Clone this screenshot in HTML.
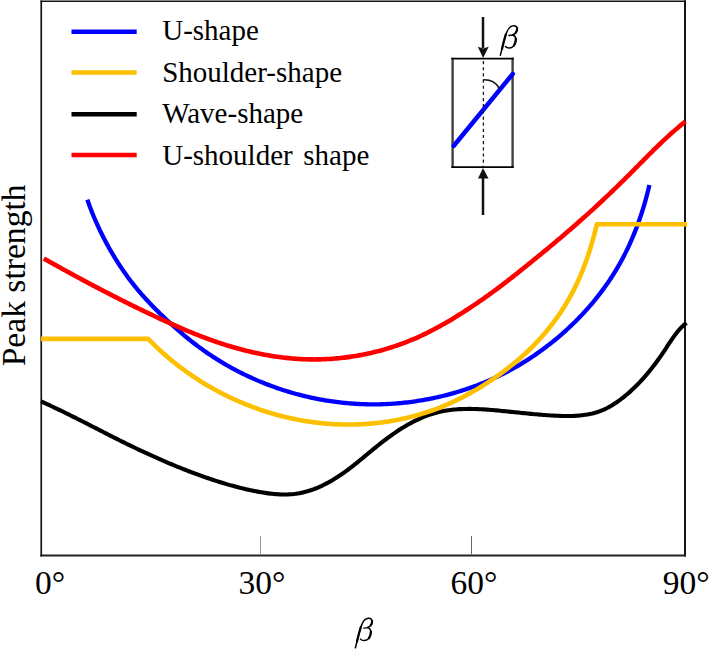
<!DOCTYPE html>
<html><head><meta charset="utf-8"><style>html,body{margin:0;padding:0;background:#fff;width:709px;height:650px;overflow:hidden}body{position:relative}</style></head>
<body>
<svg width="709" height="650" viewBox="0 0 709 650" style="position:absolute;left:0;top:0">
<rect x="0" y="0" width="709" height="650" fill="#fff"/>
<defs><g id="beta" fill="none" stroke="#000" stroke-linecap="round">
<path d="M355.4,647.8 C357.5,639 359.8,629.5 361.8,624.6 C363.3,620.8 365.7,618.4 368.6,618.3 C371,618.2 372.6,620 372.3,622.5 C372,624.8 370.3,626.6 367.6,627.4" stroke-width="1.5"/>
<path d="M357,641.5 C358.3,636 359.6,631 360.8,627" stroke-width="2.2"/>
<path d="M363.9,628.1 L368.6,627.6" stroke-width="1.4"/>
<path d="M368,627.6 C370.3,628.5 371.1,631 370.7,634 C370.1,637.5 367.6,640.4 364.5,640.6 C362.7,640.7 361.3,640.1 360.5,639.1" stroke-width="1.5"/>
<path d="M370.9,631.5 C370.8,634.5 370,636.8 368.9,638.2" stroke-width="2.2"/>
<path d="M372.2,620.6 C372.2,622.6 371.6,624 370.5,625.2" stroke-width="1.9"/>
</g></defs>
<g stroke="#151515" stroke-linecap="square">
<line x1="41.25" y1="1.3" x2="41.25" y2="555.6" stroke-width="1.7"/>
<line x1="41.25" y1="1.3" x2="685" y2="1.3" stroke-width="1.6"/>
<line x1="685" y1="1.3" x2="685" y2="555.6" stroke-width="2"/>
<line x1="41.25" y1="555.6" x2="685" y2="555.6" stroke-width="2" stroke="#222"/>
</g>
<g fill="none" stroke-linejoin="round">
<path d="M41.00,401.50 42.68,402.23 44.35,402.98 46.02,403.72 47.69,404.47 49.35,405.23 51.01,405.99 52.67,406.76 54.32,407.53 55.97,408.31 57.62,409.09 59.27,409.88 60.91,410.67 62.55,411.46 64.19,412.26 65.83,413.06 67.47,413.86 69.10,414.67 70.73,415.48 72.36,416.29 73.99,417.11 75.62,417.92 77.25,418.74 78.87,419.57 80.50,420.39 82.12,421.22 83.74,422.04 85.36,422.87 86.99,423.70 88.61,424.53 90.23,425.36 91.85,426.20 93.47,427.03 95.09,427.86 96.71,428.69 98.33,429.53 99.95,430.36 101.57,431.19 103.19,432.02 104.81,432.85 106.44,433.68 108.06,434.51 109.68,435.34 111.31,436.16 112.94,436.99 114.57,437.81 116.20,438.63 117.83,439.44 119.46,440.26 121.09,441.07 122.73,441.88 124.37,442.69 126.00,443.49 127.64,444.30 129.28,445.10 130.93,445.89 132.57,446.69 134.22,447.48 135.87,448.26 137.52,449.05 139.17,449.83 140.82,450.61 142.47,451.39 144.13,452.16 145.79,452.93 147.44,453.69 149.10,454.45 150.77,455.21 152.43,455.96 154.10,456.71 155.76,457.46 157.43,458.20 159.10,458.94 160.77,459.68 162.45,460.41 164.12,461.13 165.80,461.85 167.48,462.57 169.16,463.28 170.84,463.99 172.53,464.70 174.21,465.40 175.90,466.09 177.59,466.78 179.28,467.47 180.97,468.15 182.67,468.82 184.36,469.49 186.06,470.16 187.76,470.82 189.46,471.47 191.17,472.12 192.87,472.77 194.58,473.41 196.29,474.04 198.00,474.67 199.71,475.29 201.43,475.91 203.14,476.52 204.86,477.12 206.58,477.72 208.31,478.31 210.03,478.90 211.76,479.48 213.49,480.05 215.22,480.61 216.96,481.17 218.69,481.72 220.43,482.26 222.17,482.80 223.92,483.33 225.67,483.85 227.42,484.36 229.17,484.86 230.93,485.35 232.68,485.84 234.45,486.32 236.21,486.78 237.98,487.24 239.75,487.69 241.53,488.13 243.30,488.56 245.08,488.98 246.87,489.39 248.66,489.79 250.45,490.18 252.24,490.56 254.04,490.93 255.84,491.29 257.65,491.63 259.46,491.97 261.27,492.29 263.09,492.59 264.90,492.88 266.72,493.14 268.54,493.39 270.36,493.62 272.18,493.83 274.00,494.01 275.82,494.16 277.64,494.29 279.46,494.39 281.28,494.46 283.10,494.50 284.91,494.51 286.72,494.48 288.53,494.42 290.33,494.32 292.13,494.18 293.93,494.01 295.72,493.79 297.50,493.53 299.28,493.23 301.06,492.88 302.82,492.49 304.59,492.06 306.34,491.60 308.09,491.09 309.83,490.55 311.56,489.97 313.28,489.36 314.99,488.71 316.70,488.03 318.39,487.32 320.07,486.58 321.75,485.82 323.41,485.02 325.06,484.20 326.70,483.35 328.32,482.48 329.94,481.59 331.54,480.67 333.13,479.74 334.70,478.78 336.26,477.81 337.81,476.82 339.34,475.81 340.86,474.79 342.36,473.76 343.85,472.71 345.33,471.65 346.80,470.58 348.25,469.50 349.70,468.40 351.14,467.30 352.57,466.19 353.99,465.07 355.41,463.94 356.82,462.81 358.22,461.67 359.63,460.52 361.03,459.37 362.42,458.22 363.82,457.06 365.22,455.90 366.62,454.74 368.01,453.58 369.41,452.42 370.82,451.26 372.23,450.10 373.64,448.94 375.06,447.79 376.48,446.64 377.91,445.49 379.35,444.35 380.80,443.21 382.25,442.09 383.70,440.96 385.17,439.85 386.64,438.75 388.12,437.65 389.60,436.56 391.10,435.49 392.60,434.43 394.10,433.38 395.62,432.34 397.14,431.31 398.67,430.30 400.21,429.31 401.75,428.33 403.30,427.37 404.87,426.42 406.43,425.49 408.01,424.59 409.60,423.70 411.19,422.83 412.79,421.98 414.40,421.15 416.02,420.35 417.65,419.57 419.29,418.81 420.93,418.08 422.59,417.37 424.25,416.69 425.92,416.04 427.60,415.41 429.29,414.81 430.99,414.24 432.70,413.70 434.42,413.19 436.15,412.71 437.89,412.26 439.64,411.84 441.40,411.46 443.16,411.10 444.94,410.78 446.72,410.49 448.51,410.22 450.31,409.98 452.12,409.77 453.93,409.58 455.75,409.42 457.57,409.29 459.40,409.17 461.23,409.08 463.07,409.01 464.91,408.96 466.76,408.93 468.61,408.92 470.46,408.92 472.31,408.94 474.17,408.98 476.02,409.04 477.88,409.11 479.74,409.19 481.60,409.28 483.46,409.39 485.32,409.51 487.18,409.64 489.03,409.77 490.89,409.92 492.74,410.07 494.59,410.23 496.43,410.40 498.28,410.57 500.12,410.74 501.95,410.92 503.78,411.10 505.61,411.28 507.43,411.46 509.25,411.65 511.06,411.84 512.87,412.02 514.68,412.21 516.48,412.39 518.29,412.58 520.09,412.76 521.89,412.95 523.69,413.13 525.48,413.31 527.28,413.49 529.08,413.66 530.87,413.84 532.67,414.00 534.46,414.17 536.26,414.33 538.06,414.49 539.86,414.64 541.66,414.78 543.46,414.92 545.27,415.06 547.08,415.19 548.89,415.31 550.70,415.43 552.52,415.53 554.34,415.63 556.17,415.73 558.00,415.81 559.83,415.88 561.67,415.94 563.50,415.99 565.34,416.02 567.18,416.03 569.01,416.02 570.85,416.00 572.68,415.95 574.51,415.87 576.34,415.77 578.16,415.64 579.97,415.49 581.78,415.30 583.59,415.08 585.38,414.83 587.17,414.54 588.94,414.21 590.71,413.84 592.47,413.43 594.21,412.98 595.94,412.49 597.66,411.95 599.37,411.36 601.06,410.72 602.73,410.04 604.40,409.30 606.04,408.53 607.67,407.71 609.28,406.85 610.88,405.95 612.46,405.01 614.03,404.04 615.58,403.04 617.12,402.00 618.63,400.94 620.13,399.84 621.62,398.73 623.08,397.59 624.53,396.42 625.96,395.24 627.38,394.04 628.78,392.83 630.16,391.60 631.52,390.36 632.86,389.10 634.19,387.84 635.50,386.56 636.79,385.27 638.07,383.97 639.33,382.66 640.58,381.34 641.81,380.00 643.03,378.66 644.24,377.30 645.43,375.94 646.61,374.56 647.77,373.18 648.92,371.78 650.06,370.38 651.19,368.96 652.31,367.54 653.42,366.11 654.51,364.66 655.60,363.21 656.68,361.76 657.75,360.29 658.80,358.81 659.85,357.33 660.90,355.84 661.93,354.34 662.96,352.83 663.98,351.32 664.99,349.80 666.00,348.27 667.00,346.73 668.00,345.20 669.00,343.66 670.01,342.13 671.03,340.60 672.05,339.09 673.10,337.58 674.16,336.10 675.24,334.63 676.35,333.18 677.48,331.76 678.65,330.37 679.85,329.01 681.09,327.69 682.37,326.40 683.70,325.15 685.07,323.95 686.50,322.80" stroke="#000000" stroke-width="4.1"/>
<path d="M87.40,199.60 88.00,201.39 88.61,203.18 89.24,204.96 89.89,206.73 90.55,208.50 91.22,210.27 91.90,212.03 92.61,213.79 93.32,215.54 94.05,217.29 94.79,219.03 95.54,220.77 96.30,222.50 97.08,224.23 97.87,225.95 98.67,227.67 99.48,229.39 100.30,231.10 101.13,232.80 101.98,234.50 102.83,236.20 103.69,237.89 104.57,239.57 105.45,241.25 106.34,242.93 107.25,244.60 108.16,246.27 109.08,247.93 110.02,249.58 110.96,251.23 111.91,252.87 112.88,254.50 113.85,256.13 114.84,257.75 115.83,259.37 116.84,260.98 117.85,262.58 118.88,264.17 119.91,265.76 120.96,267.34 122.02,268.91 123.09,270.48 124.17,272.03 125.26,273.58 126.36,275.12 127.47,276.65 128.59,278.17 129.73,279.69 130.87,281.19 132.03,282.69 133.19,284.18 134.37,285.65 135.56,287.12 136.76,288.58 137.97,290.03 139.19,291.47 140.42,292.90 141.66,294.32 142.91,295.74 144.17,297.15 145.44,298.54 146.71,299.94 148.00,301.32 149.30,302.70 150.60,304.06 151.91,305.43 153.23,306.78 154.56,308.13 155.89,309.47 157.23,310.80 158.58,312.13 159.94,313.45 161.30,314.77 162.67,316.08 164.04,317.39 165.42,318.69 166.81,319.98 168.20,321.27 169.60,322.55 171.00,323.83 172.41,325.11 173.82,326.38 175.24,327.64 176.66,328.90 178.09,330.15 179.52,331.40 180.96,332.63 182.41,333.87 183.86,335.09 185.32,336.31 186.79,337.51 188.26,338.71 189.74,339.91 191.22,341.09 192.71,342.26 194.21,343.43 195.72,344.58 197.23,345.73 198.75,346.86 200.28,347.99 201.82,349.10 203.36,350.20 204.91,351.30 206.47,352.38 208.03,353.45 209.60,354.51 211.18,355.56 212.76,356.60 214.36,357.63 215.95,358.65 217.56,359.66 219.17,360.66 220.79,361.65 222.41,362.62 224.04,363.59 225.68,364.54 227.32,365.49 228.97,366.42 230.62,367.34 232.28,368.26 233.95,369.16 235.62,370.05 237.30,370.93 238.98,371.80 240.67,372.66 242.36,373.50 244.06,374.34 245.77,375.16 247.48,375.98 249.19,376.78 250.91,377.57 252.64,378.35 254.37,379.12 256.10,379.88 257.84,380.63 259.59,381.37 261.34,382.09 263.09,382.81 264.85,383.51 266.62,384.20 268.38,384.88 270.15,385.55 271.93,386.21 273.71,386.85 275.49,387.49 277.28,388.11 279.08,388.73 280.87,389.33 282.67,389.92 284.47,390.49 286.28,391.06 288.09,391.62 289.91,392.16 291.72,392.69 293.55,393.21 295.37,393.72 297.20,394.22 299.03,394.70 300.86,395.18 302.70,395.64 304.54,396.09 306.38,396.53 308.23,396.96 310.07,397.37 311.92,397.78 313.78,398.17 315.63,398.55 317.49,398.92 319.35,399.27 321.21,399.62 323.08,399.95 324.94,400.27 326.81,400.58 328.68,400.88 330.56,401.16 332.43,401.44 334.31,401.70 336.19,401.94 338.07,402.18 339.95,402.41 341.83,402.62 343.71,402.82 345.60,403.01 347.48,403.18 349.37,403.34 351.26,403.50 353.15,403.64 355.04,403.76 356.93,403.88 358.82,403.98 360.72,404.07 362.61,404.15 364.51,404.21 366.40,404.26 368.30,404.30 370.19,404.33 372.09,404.35 373.98,404.35 375.88,404.34 377.78,404.32 379.67,404.28 381.57,404.24 383.46,404.18 385.36,404.10 387.26,404.02 389.15,403.92 391.04,403.81 392.94,403.69 394.83,403.55 396.72,403.41 398.61,403.25 400.51,403.07 402.39,402.89 404.28,402.69 406.17,402.49 408.06,402.26 409.94,402.03 411.82,401.79 413.70,401.53 415.58,401.26 417.46,400.98 419.34,400.68 421.21,400.38 423.08,400.06 424.95,399.73 426.82,399.39 428.69,399.03 430.55,398.66 432.41,398.29 434.27,397.90 436.12,397.49 437.97,397.08 439.82,396.65 441.67,396.22 443.52,395.77 445.36,395.31 447.19,394.83 449.03,394.35 450.86,393.85 452.69,393.34 454.51,392.82 456.33,392.29 458.15,391.75 459.96,391.19 461.77,390.63 463.57,390.05 465.38,389.46 467.17,388.86 468.96,388.24 470.75,387.62 472.54,386.98 474.32,386.33 476.09,385.67 477.86,385.00 479.62,384.31 481.38,383.62 483.14,382.91 484.89,382.19 486.63,381.46 488.37,380.71 490.11,379.96 491.84,379.19 493.56,378.41 495.28,377.62 496.99,376.82 498.69,376.00 500.39,375.17 502.09,374.34 503.77,373.49 505.46,372.62 507.13,371.75 508.80,370.87 510.46,369.97 512.12,369.06 513.77,368.14 515.42,367.21 517.05,366.27 518.68,365.32 520.31,364.35 521.93,363.38 523.54,362.39 525.15,361.39 526.74,360.39 528.34,359.37 529.92,358.34 531.50,357.30 533.07,356.25 534.64,355.18 536.19,354.11 537.74,353.03 539.29,351.94 540.83,350.83 542.36,349.72 543.88,348.60 545.39,347.46 546.90,346.32 548.40,345.16 549.90,344.00 551.38,342.83 552.86,341.64 554.34,340.45 555.80,339.25 557.26,338.03 558.71,336.81 560.15,335.58 561.58,334.34 563.01,333.09 564.43,331.83 565.84,330.56 567.24,329.28 568.63,327.99 570.02,326.69 571.39,325.39 572.76,324.07 574.12,322.75 575.47,321.41 576.82,320.07 578.15,318.72 579.47,317.36 580.79,315.99 582.09,314.61 583.39,313.23 584.68,311.83 585.95,310.43 587.22,309.01 588.48,307.59 589.73,306.16 590.96,304.73 592.19,303.28 593.41,301.83 594.61,300.36 595.81,298.89 597.00,297.41 598.17,295.92 599.34,294.43 600.49,292.92 601.63,291.41 602.76,289.89 603.88,288.37 604.99,286.83 606.09,285.29 607.18,283.74 608.25,282.18 609.31,280.61 610.36,279.04 611.40,277.45 612.43,275.86 613.44,274.27 614.45,272.66 615.44,271.05 616.42,269.43 617.38,267.81 618.33,266.17 619.27,264.53 620.20,262.88 621.11,261.23 622.02,259.57 622.90,257.90 623.78,256.22 624.65,254.54 625.50,252.85 626.34,251.16 627.16,249.46 627.98,247.75 628.78,246.04 629.57,244.32 630.35,242.59 631.12,240.86 631.87,239.13 632.62,237.39 633.35,235.64 634.07,233.89 634.78,232.14 635.48,230.37 636.16,228.61 636.84,226.84 637.50,225.06 638.15,223.28 638.79,221.50 639.42,219.71 640.04,217.92 640.65,216.12 641.25,214.32 641.84,212.52 642.41,210.71 642.98,208.90 643.53,207.09 644.08,205.27 644.61,203.45 645.14,201.63 645.65,199.80 646.15,197.97 646.65,196.14 647.13,194.31 647.60,192.47 648.07,190.63 648.52,188.79 648.97,186.95 649.40,185.10" stroke="#0000ff" stroke-width="4.3"/>
<path d="M43.80,258.50 45.42,259.41 47.03,260.32 48.65,261.24 50.27,262.15 51.89,263.06 53.52,263.96 55.14,264.87 56.77,265.78 58.40,266.68 60.03,267.58 61.66,268.49 63.29,269.39 64.93,270.29 66.56,271.19 68.20,272.09 69.84,272.98 71.48,273.88 73.12,274.77 74.76,275.66 76.41,276.55 78.05,277.44 79.70,278.33 81.35,279.22 82.99,280.10 84.64,280.98 86.30,281.87 87.95,282.75 89.60,283.62 91.26,284.50 92.91,285.37 94.57,286.25 96.23,287.12 97.88,287.99 99.54,288.86 101.20,289.72 102.87,290.59 104.53,291.45 106.19,292.31 107.86,293.16 109.52,294.02 111.19,294.87 112.85,295.73 114.52,296.58 116.19,297.42 117.86,298.27 119.53,299.11 121.20,299.95 122.87,300.79 124.54,301.63 126.22,302.46 127.89,303.29 129.56,304.12 131.24,304.95 132.91,305.77 134.59,306.59 136.26,307.41 137.94,308.23 139.62,309.04 141.29,309.86 142.97,310.66 144.65,311.47 146.33,312.27 148.01,313.08 149.69,313.87 151.37,314.67 153.05,315.46 154.73,316.25 156.41,317.04 158.09,317.82 159.77,318.60 161.45,319.38 163.13,320.16 164.81,320.93 166.50,321.69 168.18,322.46 169.86,323.22 171.55,323.97 173.24,324.72 174.92,325.47 176.61,326.21 178.30,326.95 179.99,327.68 181.68,328.41 183.37,329.13 185.07,329.85 186.76,330.56 188.46,331.27 190.16,331.97 191.86,332.67 193.56,333.36 195.27,334.04 196.97,334.72 198.68,335.39 200.39,336.06 202.11,336.72 203.82,337.37 205.54,338.01 207.26,338.65 208.99,339.28 210.72,339.91 212.45,340.52 214.18,341.13 215.92,341.74 217.66,342.33 219.41,342.92 221.16,343.49 222.91,344.06 224.67,344.63 226.43,345.18 228.20,345.72 229.97,346.26 231.75,346.79 233.53,347.31 235.31,347.82 237.10,348.32 238.89,348.81 240.69,349.29 242.49,349.76 244.29,350.22 246.10,350.68 247.91,351.12 249.72,351.55 251.54,351.97 253.36,352.39 255.18,352.79 257.00,353.18 258.83,353.56 260.66,353.93 262.50,354.29 264.33,354.64 266.17,354.98 268.01,355.30 269.86,355.62 271.70,355.92 273.55,356.21 275.40,356.49 277.25,356.76 279.10,357.01 280.96,357.26 282.82,357.49 284.67,357.71 286.53,357.91 288.39,358.11 290.25,358.29 292.12,358.46 293.98,358.61 295.85,358.75 297.71,358.88 299.58,359.00 301.44,359.10 303.31,359.19 305.18,359.26 307.05,359.32 308.92,359.37 310.78,359.40 312.65,359.42 314.52,359.43 316.39,359.42 318.26,359.39 320.13,359.36 321.99,359.30 323.86,359.24 325.73,359.16 327.59,359.06 329.45,358.96 331.32,358.84 333.18,358.70 335.04,358.55 336.90,358.39 338.76,358.21 340.62,358.02 342.47,357.82 344.33,357.60 346.18,357.37 348.03,357.13 349.88,356.87 351.73,356.59 353.57,356.31 355.42,356.01 357.26,355.70 359.09,355.37 360.93,355.03 362.76,354.68 364.59,354.31 366.42,353.93 368.24,353.54 370.07,353.14 371.88,352.72 373.70,352.28 375.51,351.84 377.32,351.38 379.13,350.91 380.93,350.42 382.72,349.93 384.52,349.41 386.31,348.89 388.10,348.35 389.88,347.80 391.66,347.24 393.43,346.66 395.20,346.08 396.97,345.47 398.73,344.86 400.48,344.23 402.23,343.59 403.98,342.94 405.72,342.28 407.46,341.60 409.19,340.91 410.92,340.20 412.64,339.49 414.35,338.76 416.06,338.02 417.77,337.27 419.47,336.50 421.16,335.72 422.85,334.93 424.53,334.13 426.21,333.32 427.88,332.50 429.55,331.66 431.21,330.82 432.87,329.96 434.52,329.09 436.16,328.22 437.81,327.33 439.44,326.44 441.08,325.54 442.70,324.62 444.33,323.70 445.95,322.77 447.56,321.83 449.17,320.89 450.78,319.93 452.38,318.97 453.98,318.01 455.57,317.03 457.16,316.05 458.75,315.06 460.33,314.07 461.91,313.07 463.48,312.06 465.05,311.05 466.62,310.03 468.19,309.01 469.75,307.98 471.30,306.95 472.86,305.91 474.41,304.87 475.95,303.83 477.50,302.78 479.04,301.72 480.57,300.66 482.11,299.59 483.64,298.52 485.16,297.45 486.69,296.37 488.21,295.29 489.72,294.20 491.23,293.10 492.74,292.01 494.25,290.90 495.75,289.80 497.25,288.68 498.74,287.57 500.23,286.45 501.72,285.32 503.20,284.19 504.69,283.06 506.16,281.92 507.64,280.78 509.11,279.64 510.58,278.49 512.05,277.34 513.52,276.18 514.98,275.03 516.44,273.87 517.90,272.71 519.36,271.54 520.82,270.38 522.28,269.21 523.73,268.04 525.19,266.87 526.64,265.70 528.10,264.53 529.55,263.36 531.00,262.18 532.45,261.01 533.90,259.83 535.35,258.65 536.80,257.47 538.25,256.29 539.70,255.11 541.14,253.92 542.59,252.74 544.03,251.55 545.47,250.36 546.91,249.17 548.35,247.98 549.79,246.79 551.23,245.59 552.67,244.40 554.10,243.20 555.53,242.00 556.96,240.80 558.39,239.59 559.82,238.39 561.25,237.18 562.67,235.97 564.09,234.76 565.51,233.55 566.93,232.33 568.35,231.11 569.76,229.90 571.18,228.67 572.59,227.45 574.00,226.23 575.40,225.00 576.81,223.77 578.21,222.54 579.61,221.30 581.01,220.07 582.40,218.83 583.80,217.59 585.19,216.34 586.58,215.10 587.96,213.85 589.34,212.60 590.72,211.34 592.10,210.09 593.48,208.83 594.85,207.57 596.22,206.31 597.59,205.04 598.96,203.78 600.32,202.51 601.68,201.23 603.04,199.96 604.40,198.68 605.76,197.40 607.11,196.12 608.46,194.84 609.81,193.56 611.15,192.27 612.50,190.98 613.84,189.69 615.18,188.39 616.52,187.09 617.85,185.80 619.19,184.49 620.52,183.19 621.85,181.89 623.18,180.58 624.50,179.27 625.82,177.96 627.15,176.64 628.47,175.33 629.78,174.01 631.10,172.69 632.41,171.37 633.73,170.04 635.04,168.72 636.35,167.40 637.67,166.07 638.98,164.74 640.29,163.42 641.60,162.09 642.91,160.77 644.23,159.45 645.54,158.12 646.86,156.80 648.18,155.48 649.50,154.17 650.82,152.85 652.15,151.54 653.48,150.23 654.81,148.92 656.14,147.62 657.48,146.32 658.82,145.02 660.17,143.73 661.52,142.44 662.87,141.16 664.23,139.88 665.60,138.61 666.97,137.34 668.34,136.08 669.73,134.83 671.12,133.58 672.51,132.34 673.91,131.10 675.32,129.87 676.74,128.65 678.16,127.44 679.59,126.23 681.03,125.04 682.48,123.85 683.94,122.67 685.40,121.50" stroke="#ff0000" stroke-width="4.6"/>
<path d="M41,338.9 L148.20,338.90 149.20,339.92 150.20,340.94 151.20,341.95 152.22,342.95 153.23,343.95 154.25,344.95 155.28,345.93 156.31,346.92 157.35,347.90 158.39,348.87 159.44,349.84 160.49,350.80 161.55,351.76 162.61,352.71 163.68,353.66 164.75,354.60 165.82,355.53 166.90,356.46 167.99,357.39 169.08,358.31 170.18,359.22 171.27,360.13 172.38,361.03 173.49,361.93 174.60,362.82 175.72,363.70 176.84,364.58 177.97,365.46 179.10,366.33 180.23,367.19 181.37,368.05 182.52,368.90 183.67,369.74 184.82,370.58 185.98,371.42 187.14,372.25 188.30,373.07 189.47,373.88 190.65,374.70 191.82,375.50 193.00,376.30 194.19,377.09 195.38,377.88 196.57,378.66 197.77,379.44 198.97,380.21 200.18,380.97 201.38,381.73 202.60,382.48 203.81,383.22 205.03,383.96 206.26,384.70 207.48,385.43 208.71,386.15 209.95,386.86 211.19,387.57 212.43,388.27 213.67,388.97 214.92,389.66 216.17,390.34 217.43,391.02 218.69,391.69 219.95,392.36 221.21,393.02 222.48,393.67 223.75,394.32 225.03,394.96 226.30,395.59 227.58,396.22 228.87,396.84 230.16,397.46 231.45,398.07 232.74,398.67 234.03,399.26 235.33,399.85 236.63,400.44 237.94,401.01 239.25,401.58 240.56,402.14 241.87,402.70 243.19,403.25 244.50,403.79 245.82,404.33 247.15,404.86 248.47,405.39 249.80,405.90 251.13,406.41 252.47,406.92 253.80,407.41 255.14,407.90 256.48,408.39 257.83,408.86 259.17,409.33 260.52,409.80 261.87,410.25 263.22,410.70 264.58,411.15 265.94,411.58 267.29,412.01 268.66,412.43 270.02,412.85 271.38,413.26 272.75,413.66 274.12,414.05 275.49,414.44 276.87,414.82 278.24,415.19 279.62,415.56 281.00,415.92 282.38,416.27 283.76,416.62 285.14,416.95 286.53,417.28 287.92,417.61 289.31,417.93 290.70,418.23 292.09,418.54 293.48,418.83 294.88,419.12 296.27,419.40 297.67,419.67 299.07,419.94 300.47,420.20 301.88,420.45 303.28,420.70 304.68,420.93 306.09,421.16 307.50,421.38 308.91,421.60 310.32,421.81 311.73,422.01 313.14,422.20 314.55,422.38 315.96,422.56 317.38,422.73 318.79,422.89 320.21,423.05 321.63,423.20 323.05,423.34 324.47,423.47 325.89,423.59 327.31,423.71 328.73,423.82 330.15,423.92 331.57,424.02 333.00,424.10 334.42,424.18 335.85,424.25 337.27,424.32 338.70,424.37 340.12,424.42 341.55,424.46 342.97,424.49 344.40,424.52 345.83,424.54 347.26,424.54 348.68,424.55 350.11,424.54 351.54,424.53 352.96,424.51 354.39,424.48 355.82,424.44 357.24,424.39 358.67,424.34 360.09,424.28 361.52,424.21 362.94,424.14 364.37,424.05 365.79,423.96 367.22,423.86 368.64,423.76 370.06,423.64 371.48,423.52 372.90,423.39 374.32,423.25 375.74,423.10 377.16,422.95 378.58,422.79 379.99,422.62 381.41,422.44 382.82,422.25 384.24,422.06 385.65,421.86 387.06,421.65 388.47,421.43 389.87,421.21 391.28,420.97 392.69,420.73 394.09,420.48 395.49,420.23 396.89,419.96 398.29,419.69 399.69,419.41 401.08,419.12 402.48,418.82 403.87,418.52 405.26,418.21 406.64,417.89 408.03,417.56 409.41,417.22 410.80,416.88 412.17,416.53 413.55,416.17 414.93,415.80 416.30,415.42 417.67,415.04 419.04,414.64 420.40,414.24 421.77,413.84 423.13,413.42 424.49,412.99 425.84,412.56 427.19,412.12 428.54,411.67 429.89,411.21 431.24,410.75 432.58,410.28 433.92,409.80 435.25,409.31 436.59,408.81 437.92,408.30 439.24,407.79 440.57,407.27 441.89,406.74 443.20,406.20 444.52,405.66 445.83,405.10 447.14,404.54 448.44,403.97 449.74,403.40 451.04,402.81 452.33,402.22 453.63,401.62 454.92,401.02 456.20,400.40 457.48,399.78 458.76,399.15 460.04,398.52 461.31,397.88 462.58,397.23 463.84,396.57 465.10,395.91 466.36,395.24 467.62,394.56 468.87,393.88 470.12,393.19 471.37,392.49 472.61,391.79 473.85,391.08 475.08,390.36 476.31,389.64 477.54,388.91 478.77,388.17 479.99,387.43 481.20,386.69 482.42,385.93 483.63,385.17 484.84,384.41 486.04,383.64 487.24,382.86 488.44,382.08 489.63,381.29 490.82,380.49 492.01,379.69 493.19,378.89 494.37,378.08 495.54,377.26 496.72,376.44 497.88,375.61 499.05,374.78 500.21,373.95 501.37,373.10 502.52,372.26 503.67,371.40 504.82,370.55 505.96,369.68 507.09,368.81 508.23,367.94 509.35,367.06 510.48,366.18 511.60,365.29 512.71,364.39 513.82,363.49 514.93,362.58 516.03,361.67 517.12,360.75 518.21,359.83 519.29,358.90 520.37,357.96 521.45,357.02 522.51,356.07 523.58,355.12 524.63,354.16 525.68,353.19 526.73,352.22 527.76,351.24 528.79,350.26 529.82,349.27 530.84,348.27 531.85,347.27 532.86,346.26 533.86,345.24 534.85,344.22 535.84,343.20 536.82,342.17 537.80,341.13 538.77,340.08 539.73,339.03 540.68,337.98 541.63,336.92 542.57,335.85 543.51,334.78 544.43,333.70 545.36,332.62 546.27,331.53 547.18,330.43 548.08,329.33 548.97,328.23 549.86,327.11 550.74,326.00 551.61,324.87 552.48,323.75 553.33,322.61 554.18,321.48 555.03,320.33 555.86,319.18 556.69,318.03 557.52,316.87 558.33,315.70 559.14,314.53 559.94,313.36 560.73,312.18 561.51,310.99 562.29,309.80 563.06,308.61 563.82,307.41 564.57,306.20 565.32,304.99 566.06,303.78 566.79,302.56 567.51,301.33 568.23,300.10 568.93,298.87 569.63,297.63 570.32,296.39 571.01,295.14 571.68,293.89 572.35,292.63 573.00,291.37 573.66,290.10 574.30,288.83 574.93,287.55 575.56,286.27 576.18,284.99 576.79,283.70 577.39,282.41 577.98,281.11 578.57,279.81 579.15,278.51 579.72,277.20 580.29,275.89 580.84,274.58 581.39,273.26 581.94,271.94 582.47,270.62 583.00,269.29 583.52,267.96 584.03,266.62 584.54,265.29 585.04,263.95 585.53,262.61 586.02,261.26 586.50,259.92 586.97,258.57 587.44,257.21 587.90,255.86 588.35,254.50 588.80,253.15 589.24,251.79 589.67,250.42 590.10,249.06 590.52,247.70 590.94,246.33 591.35,244.96 591.75,243.59 592.15,242.22 592.54,240.84 592.92,239.47 593.30,238.09 593.68,236.72 594.05,235.34 594.41,233.96 594.77,232.58 595.12,231.20 595.47,229.82 595.81,228.44 596.14,227.06 596.47,225.68 596.80,224.30 L687,224.3" stroke="#fdc000" stroke-width="4.6"/>
</g>
<line x1="260.5" y1="536" x2="260.5" y2="554.5" stroke="#999" stroke-width="1"/>
<line x1="471.5" y1="536" x2="471.5" y2="554.5" stroke="#666" stroke-width="1"/>

<g stroke-width="4.4">
<line x1="71.5" y1="31.8" x2="136.7" y2="31.8" stroke="#0000ff"/>
<line x1="71.5" y1="72.5" x2="136.7" y2="72.5" stroke="#fdc000"/>
<line x1="71.5" y1="114.3" x2="136.7" y2="114.3" stroke="#000000"/>
<line x1="71.5" y1="155" x2="136.7" y2="155" stroke="#ff0000"/>
</g>
<g font-family="'Liberation Serif', serif" font-size="29" fill="#000">
<text x="162.2" y="40.3">U-shape</text>
<text x="162.2" y="81.7">Shoulder-shape</text>
<text x="162.2" y="123.4">Wave-shape</text>
<text x="162.2" y="165.2">U-shoulder<tspan x="303.3">shape</tspan></text>
</g>
<g font-family="'Liberation Serif', serif" font-size="33" fill="#000">
<g font-size="33.5"><text x="35" y="594.4">0°</text>
<text x="238.5" y="594.4">30°</text>
<text x="450.5" y="594.4">60°</text>
<text x="662.8" y="594.4">90°</text></g>
<use href="#beta"/>
<text transform="translate(25.2,366.3) rotate(-90)" font-size="33.6">Peak strength</text>
</g>
<!-- inset -->
<g>
<line x1="452.6" y1="57.7" x2="452.6" y2="168" stroke="#404040" stroke-width="2.4"/>
<line x1="512.6" y1="57.7" x2="512.6" y2="168" stroke="#404040" stroke-width="2.4"/>
<line x1="451.4" y1="58.6" x2="513.8" y2="58.6" stroke="#000" stroke-width="1.8"/>
<line x1="451.4" y1="167.1" x2="513.8" y2="167.1" stroke="#000" stroke-width="1.8"/>
<line x1="453.8" y1="145.8" x2="512.8" y2="73.9" stroke="#0000ff" stroke-width="4.5" stroke-linecap="round"/>
<line x1="483.4" y1="61" x2="483.4" y2="167" stroke="#1a1a1a" stroke-width="1.3" stroke-dasharray="3.2,2.96"/>
<path d="M483.3,79.7 C490,79.5 496,82 499.5,88.5" fill="none" stroke="#111" stroke-width="1.6"/>
<line x1="483" y1="17" x2="483" y2="48" stroke="#111" stroke-width="2.5"/>
<path d="M477.8,46.8 L483.1,48.6 L488.7,46.8 L483.1,58 Z" fill="#111"/>
<line x1="483" y1="177" x2="483" y2="215" stroke="#111" stroke-width="2.5"/>
<path d="M478,178.5 L483,168 L488.5,178.5 Z" fill="#111"/>
<use href="#beta" transform="translate(145,-592.6)"/>
</g>
</svg>
</body></html>
